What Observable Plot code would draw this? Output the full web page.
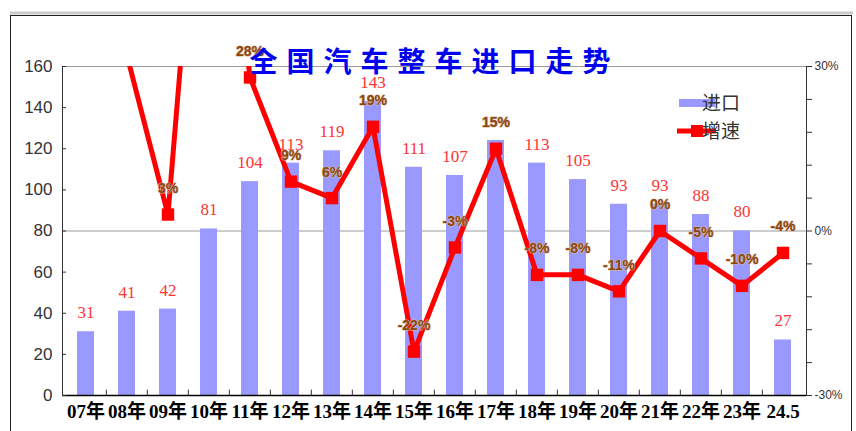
<!DOCTYPE html>
<html><head><meta charset="utf-8">
<script src="https://cdn.jsdelivr.net/npm/d3@7"></script>
<script src="https://cdn.jsdelivr.net/npm/@observablehq/plot@0.6"></script>
<style>body{margin:0;background:#fff} svg{display:block}</style>
</head><body><div id="chart"></div>
<script>
const categories = ["07年","08年","09年","10年","11年","12年","13年","14年","15年","16年","17年","18年","19年","20年","21年","22年","23年","24.5"];
const imports = [31,41,42,81,104,113,119,143,111,107,124,113,105,93,93,88,80,27];
const growth = [null,32,3,93,28,9,6,19,-22,-3,15,-8,-8,-11,0,-5,-10,-4];
const hiddenValueLabels = ["17年"];
const title = "全国汽车整车进口走势";
const leftTicks = [0,20,40,60,80,100,120,140,160];
const rightTickPcts = [-30,-24,-18,-12,-6,0,6,12,18,24,30];
const rightLabelPcts = [-30,0,30];
const legendLabels = ["进口","增速"];

const data = categories.map((c,i)=>({cat:c, imp:imports[i], g:growth[i]}));
const toY = g => 80 + g*80/30;
const fromY = v => Math.round((v-80)*30/80);

const W=856,H=431,mL=62,mR=50,mT=66,mB=36;
const step = (W-mL-mR)/categories.length;
const gData = data.filter(d=>d.g!=null);
const gLabels = gData.filter(d=>d.g<=30);

const plot = Plot.plot({
  width:W, height:H, marginLeft:mL, marginRight:mR, marginTop:mT, marginBottom:mB,
  style:{background:"transparent", fontFamily:"'Liberation Sans', sans-serif", color:"#333"},
  x:{type:"band", domain:categories, paddingInner:0.58, paddingOuter:0.29, label:null},
  y:{domain:[0,160], label:null},
  marks:[
    Plot.ruleY([80,160], {stroke:"#9a9a9a", strokeWidth:1}),
    Plot.barY(data, {x:"cat", y:"imp", fill:"#9999FF"}),
    Plot.text(data.filter(d=>!hiddenValueLabels.includes(d.cat)), {x:"cat", y:"imp", text:d=>String(d.imp), dy:-19, fill:"#FF3333", fontSize:17, fontFamily:"'Liberation Serif', serif"}),
    Plot.line(gData, {x:"cat", y:d=>toY(d.g), stroke:"#FF0000", strokeWidth:5, clip:true}),
    Plot.dot(gData, {x:"cat", y:d=>toY(d.g), symbol:"square", r:7, fill:"#FF0000", clip:true}),
    Plot.text(gLabels, {x:"cat", y:d=>toY(d.g), text:d=>d.g+"%", dy:-26, fill:"#8B4513", fontSize:14, fontWeight:"bold", fontFamily:"'Liberation Sans', sans-serif", stroke:"#d8b89a", strokeWidth:1.2, paintOrder:"stroke"}),
    Plot.ruleY([0], {stroke:"#000", strokeWidth:1.5}),
    Plot.frame({anchor:"left", stroke:"#333"}),
    Plot.frame({anchor:"right", stroke:"#333"}),
    Plot.ruleX(categories.slice(1), {x:d=>d, y1:0, y2:2.6, dx:-step/2, stroke:"#333"}),
    Plot.axisY({ticks:leftTicks, tickSize:0, tickPadding:10, fontSize:17, fill:"#333"}),
    Plot.axisY({ticks:leftTicks, tickSize:4, dx:4, tickFormat:()=>"", stroke:"#333"}),
    Plot.axisY({anchor:"right", ticks:rightTickPcts.map(toY), tickSize:5, tickPadding:3, stroke:"#333", fill:"#333", fontSize:12,
      tickFormat:v=>rightLabelPcts.includes(fromY(v)) ? fromY(v)+"%" : ""}),
    Plot.axisX({tickSize:0, tickPadding:9, fontSize:19, fontWeight:"bold", fill:"#000", fontFamily:"'Liberation Serif','Noto Sans CJK SC', serif"}),
    Plot.text([title], {frameAnchor:"top", dy:-14, text:d=>d, fontSize:28, fontWeight:"bold", fill:"#0000EE", fontFamily:"'Noto Sans CJK SC', sans-serif"})
  ]
});
document.getElementById("chart").appendChild(plot);

const svg = d3.select(plot);
svg.selectAll("text").filter(function(){return this.textContent===title;}).style("letter-spacing","9px");
// outer border
svg.insert("rect", ":first-child").attr("x",10.5).attr("y",15.5).attr("width",841).attr("height",430).attr("fill","none").attr("stroke","#222");
svg.insert("line", ":first-child").attr("x1",10).attr("x2",853).attr("y1",13).attr("y2",13).attr("stroke","#ccc").attr("stroke-width",3);
// legend
const lg = svg.append("g").attr("font-family","'Noto Sans CJK SC', sans-serif").attr("font-size",19).attr("fill","#333");
lg.append("rect").attr("x",679).attr("y",99).attr("width",36).attr("height",8).attr("fill","#9999FF");
lg.append("line").attr("x1",677).attr("x2",716).attr("y1",131).attr("y2",131).attr("stroke","#FF0000").attr("stroke-width",5);
lg.append("rect").attr("x",691).attr("y",125).attr("width",12).attr("height",12).attr("fill","#FF0000");
lg.append("text").attr("x",721).attr("y",103).attr("dy","0.35em").text(legendLabels[0]);
lg.append("text").attr("x",721).attr("y",131).attr("dy","0.35em").text(legendLabels[1]);
</script>
</body></html>
